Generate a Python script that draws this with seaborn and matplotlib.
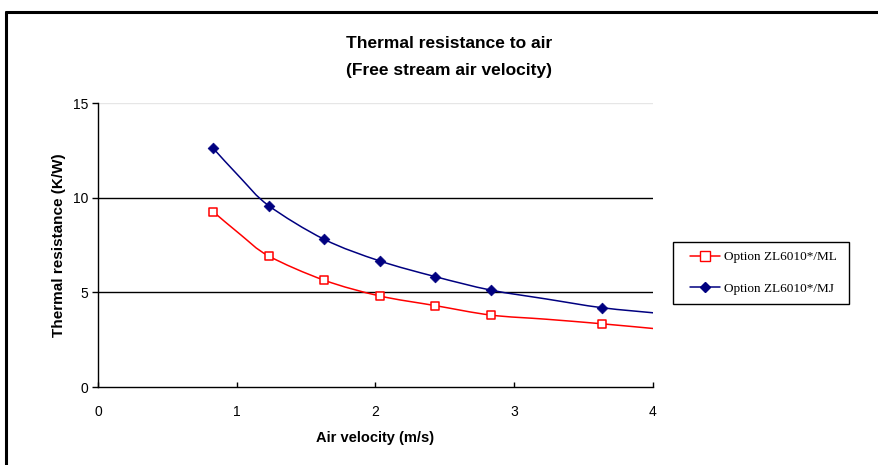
import numpy as np
import pandas as pd
import matplotlib.pyplot as plt
import seaborn as sns
from matplotlib.path import Path
from matplotlib.patches import PathPatch, Rectangle
from matplotlib.lines import Line2D

# Data
velocity = [0.83, 1.03, 1.23, 1.63, 2.03, 2.43, 2.83, 3.23, 3.63, 4.03]
ml_values = [9.26, 8.03, 6.92, 5.64, 4.81, 4.30, 3.80, 3.58, 3.34, 3.07]
mj_values = [12.61, 11.02, 9.58, 7.80, 6.66, 5.83, 5.12, 4.65, 4.19, 3.90]
marked = [True, False, True, True, True, True, True, False, True, False]
series_names = ["Option ZL6010*/ML", "Option ZL6010*/MJ"]
x_ticks = [0, 1, 2, 3, 4]
y_ticks = [0, 5, 10, 15]

df = pd.DataFrame({"velocity": velocity, "ML": ml_values, "MJ": mj_values, "marked": marked})

sns.set_style("white")
plt.rcParams["font.family"] = ["Liberation Sans", "DejaVu Sans"]
plt.rcParams["text.color"] = "black"
plt.rcParams["axes.labelcolor"] = "black"
plt.rcParams["xtick.color"] = "black"
plt.rcParams["ytick.color"] = "black"

W, H = 879, 465
fig = plt.figure(figsize=(W / 100, H / 100), dpi=100)
ax = fig.add_axes([98 / W, 1 - 387 / H, (653 - 98) / W, (387 - 103) / H])


def smooth_path(xs, ys):
    # Excel-style smoothed line: cubic bezier through the points
    pts = np.column_stack([xs, ys])
    n = len(pts)
    verts = [pts[0]]
    codes = [Path.MOVETO]
    for i in range(n - 1):
        p0 = pts[i - 1] if i > 0 else pts[i]
        p1 = pts[i]
        p2 = pts[i + 1]
        p3 = pts[i + 2] if i + 2 < n else pts[i + 1]
        verts += [p1 + (p2 - p0) / 6, p2 - (p3 - p1) / 6, p2]
        codes += [Path.CURVE4] * 3
    return Path(verts, codes)


# gridlines
for yv in [5, 10]:
    ax.axhline(yv, color="black", lw=1, zorder=1)
ax.axhline(15, color="#e6e6e6", lw=1, zorder=1)

colors = {"ML": "#FF0000", "MJ": "#000080"}
for col in ["ML", "MJ"]:
    patch = PathPatch(smooth_path(df["velocity"], df[col]), facecolor="none",
                      edgecolor=colors[col], lw=1.1, zorder=2)
    ax.add_patch(patch)

pts = df[df["marked"]]
sns.scatterplot(data=pts, x="velocity", y="ML", marker="s", s=32, color="white",
                edgecolor="#FF0000", linewidth=1.1, ax=ax, zorder=3)
sns.scatterplot(data=pts, x="velocity", y="MJ", marker="D", s=30, color="#000080",
                edgecolor="#000080", linewidth=0.5, ax=ax, zorder=3)

ax.set_xlim(0, 4)
ax.set_ylim(0, 15)
ax.set_xticks(x_ticks)
ax.set_yticks(y_ticks)
ax.set_xticklabels([str(v) for v in x_ticks])
ax.set_yticklabels([str(v) for v in y_ticks])

for s in ["top", "right"]:
    ax.spines[s].set_visible(False)
for s in ["left", "bottom"]:
    ax.spines[s].set_color("black")
    ax.spines[s].set_linewidth(1)
ax.tick_params(axis="y", direction="out", length=4, width=1, pad=3, labelsize=10, left=True)
ax.tick_params(axis="x", direction="in", length=3.5, width=1, pad=13, labelsize=10, bottom=True)

ax.set_xlabel("Air velocity (m/s)", fontsize=10.5, fontweight="bold", va="center")
ax.set_ylabel("Thermal resistance (K/W)", fontsize=11, fontweight="bold", va="center")
ax.xaxis.set_label_coords(0.5, -(438 - 387) / (387 - 103))
ax.yaxis.set_label_coords(-(98 - 59) / (653 - 98), 0.5)

fig.text(449 / W, 1 - 44 / H, "Thermal resistance to air", ha="center", va="center",
         fontsize=12.5, fontweight="bold")
fig.text(449 / W, 1 - 71 / H, "(Free stream air velocity)", ha="center", va="center",
         fontsize=12.5, fontweight="bold")

# legend with its own box
fig.add_artist(Rectangle((673 / W, 1 - 304 / H), (849 - 673) / W, (304 - 242) / H,
                         transform=fig.transFigure, facecolor="white",
                         edgecolor="black", lw=1, zorder=4))
handles = [
    Line2D([], [], color="#FF0000", lw=1.1, marker="s", markersize=6.5,
           markerfacecolor="white", markeredgecolor="#FF0000"),
    Line2D([], [], color="#000080", lw=1.1, marker="D", markersize=5.5,
           markerfacecolor="#000080", markeredgecolor="#000080"),
]
leg = fig.legend(handles, series_names, loc="upper left",
                 bbox_to_anchor=(690 / W, 1 - 251 / H), borderaxespad=0,
                 prop={"family": ["Liberation Serif", "DejaVu Serif"], "size": 9.5},
                 frameon=False, handlelength=2.3, handletextpad=0.3,
                 labelspacing=1.45, borderpad=0)
leg.set_zorder(5)

# chart area border (left and top only visible)
fig.add_artist(Line2D([6 / W, 6 / W], [0, 1 - 12 / H], color="black", lw=2.2,
                      transform=fig.transFigure))
fig.add_artist(Line2D([6 / W, 1], [1 - 12 / H, 1 - 12 / H], color="black", lw=2.2,
                      transform=fig.transFigure))

plt.savefig("out.png", dpi=100)
